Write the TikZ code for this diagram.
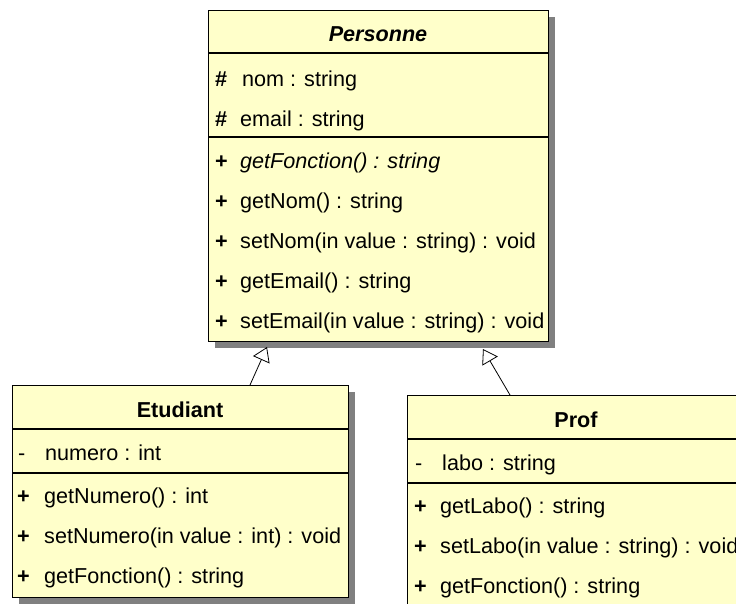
\documentclass[tikz,border=0pt]{standalone}
\usepackage{fontspec}
\setmainfont{Liberation Sans}
\usetikzlibrary{arrows.meta,shadows}
\definecolor{classyellow}{RGB}{255,255,202}
\definecolor{shadowgray}{RGB}{128,128,128}
\tikzset{
    classbox/.style={draw=black, line width=1.2pt, fill=classyellow, anchor=north west, inner sep=0pt,
            drop shadow={shadow xshift=6pt, shadow yshift=-6pt, fill=shadowgray, opacity=1}},
    classname/.style={anchor=base, inner sep=0pt, font=\fontsize{21.6}{26}\selectfont\bfseries},
    member/.style={anchor=base west, inner sep=0pt, font=\fontsize{21.6}{26}\selectfont},
    vis/.style={member, font=\fontsize{21.6}{26}\selectfont\bfseries},
    sepline/.style={line width=1.2pt},
    inherits/.style={-{Triangle[open, length=14pt, width=18pt]}, line width=0.8pt}
}

\begin{document}
\begin{tikzpicture}[x=1pt, y=-1pt]
            \useasboundingbox (0, 0) rectangle (736, 603);
            \clip (0, 0) rectangle (736, 603);
            % the parent class
            \node[classbox, minimum width=340pt, minimum height=331pt] (personne) at (208, 10) {};
            \draw[sepline] (personne.west |- 0, 53) -- (personne.east |- 0, 53);
            \draw[sepline] (personne.west |- 0, 137) -- (personne.east |- 0, 137);
            \node[classname, font=\fontsize{21.6}{26}\selectfont\bfseries\itshape] (personneName) at (378, 41) {Personne};
            \node[vis] (pv1) at (215, 86) {\#};
            \node[member] (pnom) at (242, 86) {nom : string};
            \node[vis] (pv2) at (215, 126) {\#};
            \node[member] (pemail) at (240, 126) {email : string};
            \node[vis] (pv3) at (215, 168) {+};
            \node[member, font=\fontsize{21.6}{26}\selectfont\itshape] (pgetf) at (240, 168) {getFonction() : string};
            \node[vis] (pv4) at (215, 208) {+};
            \node[member] (pgetn) at (240, 208) {getNom() : string};
            \node[vis] (pv5) at (215, 248) {+};
            \node[member] (psetn) at (240, 248) {setNom(in value : string) : void};
            \node[vis] (pv6) at (215, 288) {+};
            \node[member] (pgete) at (240, 288) {getEmail() : string};
            \node[vis] (pv7) at (215, 328) {+};
            \node[member] (psete) at (240, 328) {setEmail(in value : string) : void};

            % first child
            \node[classbox, minimum width=336pt, minimum height=212pt] (etudiant) at (12, 385) {};
            \draw[sepline] (etudiant.west |- 0, 429) -- (etudiant.east |- 0, 429);
            \draw[sepline] (etudiant.west |- 0, 473) -- (etudiant.east |- 0, 473);
            \node[classname] (etudiantName) at (180, 417) {Etudiant};
            \node[member] (ev1) at (18, 460) {-};
            \node[member] (enum) at (45, 460) {numero : int};
            \node[vis] (ev2) at (17, 503) {+};
            \node[member] (egetn) at (44, 503) {getNumero() : int};
            \node[vis] (ev3) at (17, 543) {+};
            \node[member] (esetn) at (44, 543) {setNumero(in value : int) : void};
            \node[vis] (ev4) at (17, 583) {+};
            \node[member] (egetf) at (44, 583) {getFonction() : string};

            % second child, cut by the border
            \node[classbox, minimum width=340pt, minimum height=230pt] (prof) at (407, 395) {};
            \draw[sepline] (prof.west |- 0, 439) -- (prof.east |- 0, 439);
            \draw[sepline] (prof.west |- 0, 483) -- (prof.east |- 0, 483);
            \node[classname] (profName) at (576, 427) {Prof};
            \node[member] (rv1) at (415, 470) {-};
            \node[member] (rlabo) at (442, 470) {labo : string};
            \node[vis] (rv2) at (414, 513) {+};
            \node[member] (rgetl) at (440, 513) {getLabo() : string};
            \node[vis] (rv3) at (414, 553) {+};
            \node[member] (rsetl) at (440, 553) {setLabo(in value : string) : void};
            \node[vis] (rv4) at (414, 593) {+};
            \node[member] (rgetf) at (440, 593) {getFonction() : string};

            % generalisation arrows
            \coordinate (etuTop) at (250, 385);
            \coordinate (persLeft) at (267, 347);
            \coordinate (profTop) at (510, 395);
            \coordinate (persRight) at (483, 349);
            \draw[inherits] (etuTop) -- (persLeft);
            \draw[inherits] (profTop) -- (persRight);
        \end{tikzpicture}
\end{document}
